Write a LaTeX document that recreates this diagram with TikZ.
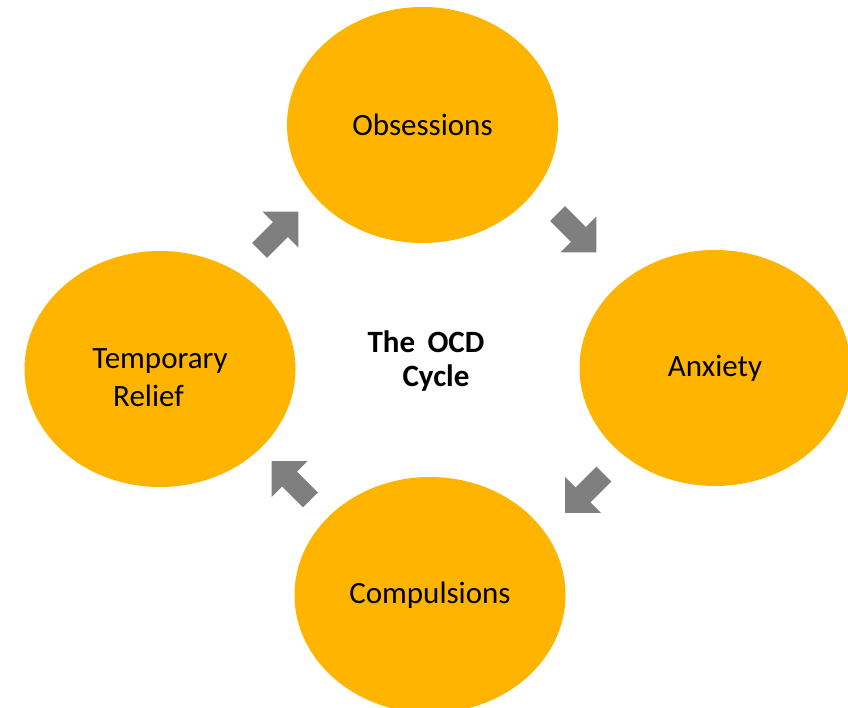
\documentclass[tikz,border=0pt]{standalone}
\usepackage{fontspec}
\setmainfont{Carlito}
\usetikzlibrary{shapes.geometric}
\definecolor{stagefill}{HTML}{FFB500}
\definecolor{arrowgray}{HTML}{7F7F7F}
\begin{document}
\begin{tikzpicture}[x=1pt,y=1pt,
  stage/.style={ellipse, fill=stagefill, minimum width=271pt, minimum height=236pt,
    inner sep=0pt, align=center, text=black, font=\fontsize{31}{38}\selectfont},
  titletext/.style={align=center, text=black, font=\bfseries\fontsize{31}{34}\selectfont},
  flowarrow/.pic={
    \fill[arrowgray] (27.5,0) -- (2,25.5) -- (2,10.5) -- (-27.5,10.5)
      -- (-27.5,-10.5) -- (2,-10.5) -- (2,-25.5) -- cycle;
  }]
\useasboundingbox (0,0) rectangle (848,708);

% the four stages of the cycle
\node[stage] (obs)    at (422.5,583) {Obsessions};
\node[stage] (anx)    at (715,340)   {Anxiety};
\node[stage] (comp)   at (430,113)   {Compulsions};
\node[stage, text height=76pt, text depth=0pt] (relief) at (160,339)
  {Temporary\\Relief\hspace*{23pt}};

% title in the middle
\node[titletext] (title) at (426,347) {The\hspace{0.4em}OCD\\\hspace*{20pt}Cycle};

% block arrows leading from one stage to the next
\pic[rotate=45]   at (279,477)     {flowarrow};
\pic[rotate=-45]  at (577,475)     {flowarrow};
\pic[rotate=-135] at (584.5,214.5) {flowarrow};
\pic[rotate=135]  at (291,227.5)   {flowarrow};
\end{tikzpicture}
\end{document}
